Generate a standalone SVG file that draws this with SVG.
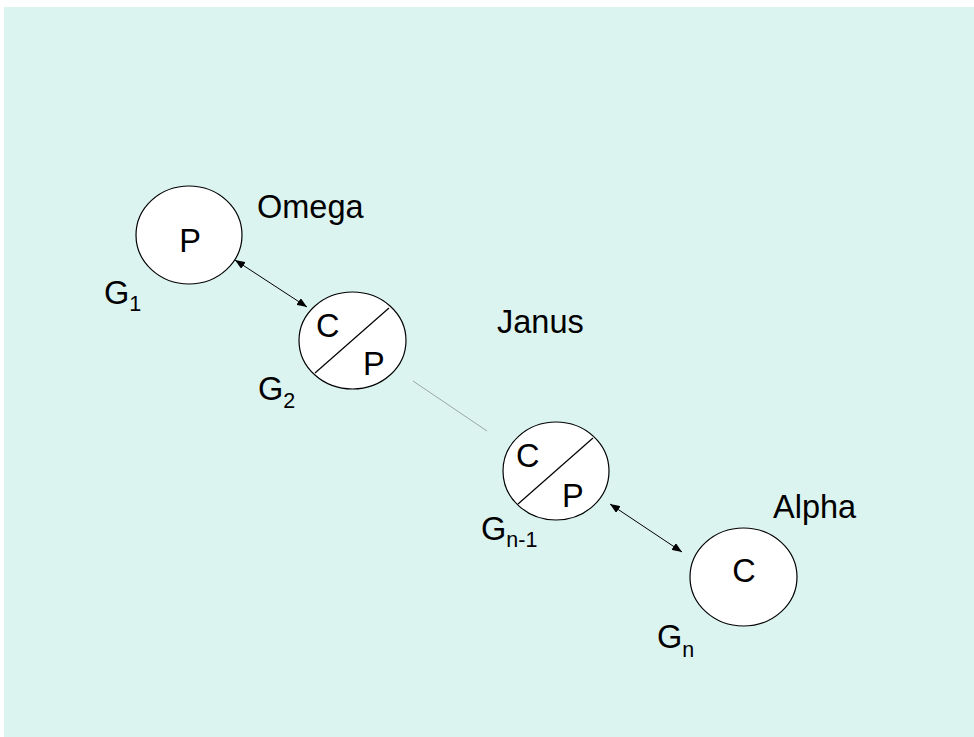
<svg xmlns="http://www.w3.org/2000/svg" width="974" height="737" viewBox="0 0 974 737">
  <style>
    .node { fill: #ffffff; stroke: #000000; stroke-width: 1.2; }
    .split { stroke: #000000; stroke-width: 1.2; }
    .lbl { font-family: "Liberation Sans", Arial, sans-serif; font-size: 32.5px; fill: #000000; }
    .sub { font-size: 21.5px; }
    .link { stroke: #000000; stroke-width: 1; fill: none; }
    .faint { stroke: #9aa8a6; stroke-width: 1; fill: none; }
  </style>
  <defs>
    <marker id="ah" viewBox="0 0 10 8" refX="10" refY="4" markerWidth="10" markerHeight="8" markerUnits="userSpaceOnUse" orient="auto-start-reverse">
      <path d="M0,0 L10,4 L0,8 Z" fill="#000000"/>
    </marker>
  </defs>

  <!-- slide background -->
  <rect x="4" y="7" width="970" height="730" fill="#dcf4f0"/>

  <!-- connectors -->
  <g id="connectors">
    <line class="link" x1="235" y1="260" x2="307" y2="307" marker-start="url(#ah)" marker-end="url(#ah)"/>
    <line class="faint" x1="413" y1="381" x2="487" y2="431"/>
    <line class="link" x1="610" y1="504" x2="682" y2="552" marker-start="url(#ah)" marker-end="url(#ah)"/>
  </g>

  <!-- G1: producer -->
  <g id="g1">
    <ellipse class="node" cx="189" cy="235" rx="53" ry="49"/>
    <text class="lbl" x="190" y="252" text-anchor="middle">P</text>
    <text class="lbl" x="104" y="304">G<tspan class="sub" dy="7">1</tspan></text>
  </g>

  <!-- G2: consumer / producer -->
  <g id="g2">
    <ellipse class="node" cx="352.5" cy="340.5" rx="53.5" ry="48.5"/>
    <line class="split" x1="315" y1="373" x2="389" y2="308"/>
    <text class="lbl" x="316" y="337">C</text>
    <text class="lbl" x="363" y="375">P</text>
    <text class="lbl" x="258" y="400">G<tspan class="sub" dy="8">2</tspan></text>
  </g>

  <!-- Gn-1: consumer / producer -->
  <g id="gn1">
    <ellipse class="node" cx="556" cy="471" rx="53" ry="49"/>
    <line class="split" x1="518" y1="504" x2="593" y2="438"/>
    <text class="lbl" x="516" y="467">C</text>
    <text class="lbl" x="562" y="507">P</text>
    <text class="lbl" x="481" y="540">G<tspan class="sub" dy="7">n-1</tspan></text>
  </g>

  <!-- Gn: consumer -->
  <g id="gn">
    <ellipse class="node" cx="743.5" cy="577" rx="53.5" ry="49"/>
    <text class="lbl" x="744" y="582" text-anchor="middle">C</text>
    <text class="lbl" x="657" y="648">G<tspan class="sub" dy="9">n</tspan></text>
  </g>

  <!-- role labels -->
  <g id="roles">
    <text class="lbl" x="257" y="218">Omega</text>
    <text class="lbl" x="497" y="333">Janus</text>
    <text class="lbl" x="773" y="518">Alpha</text>
  </g>
</svg>
